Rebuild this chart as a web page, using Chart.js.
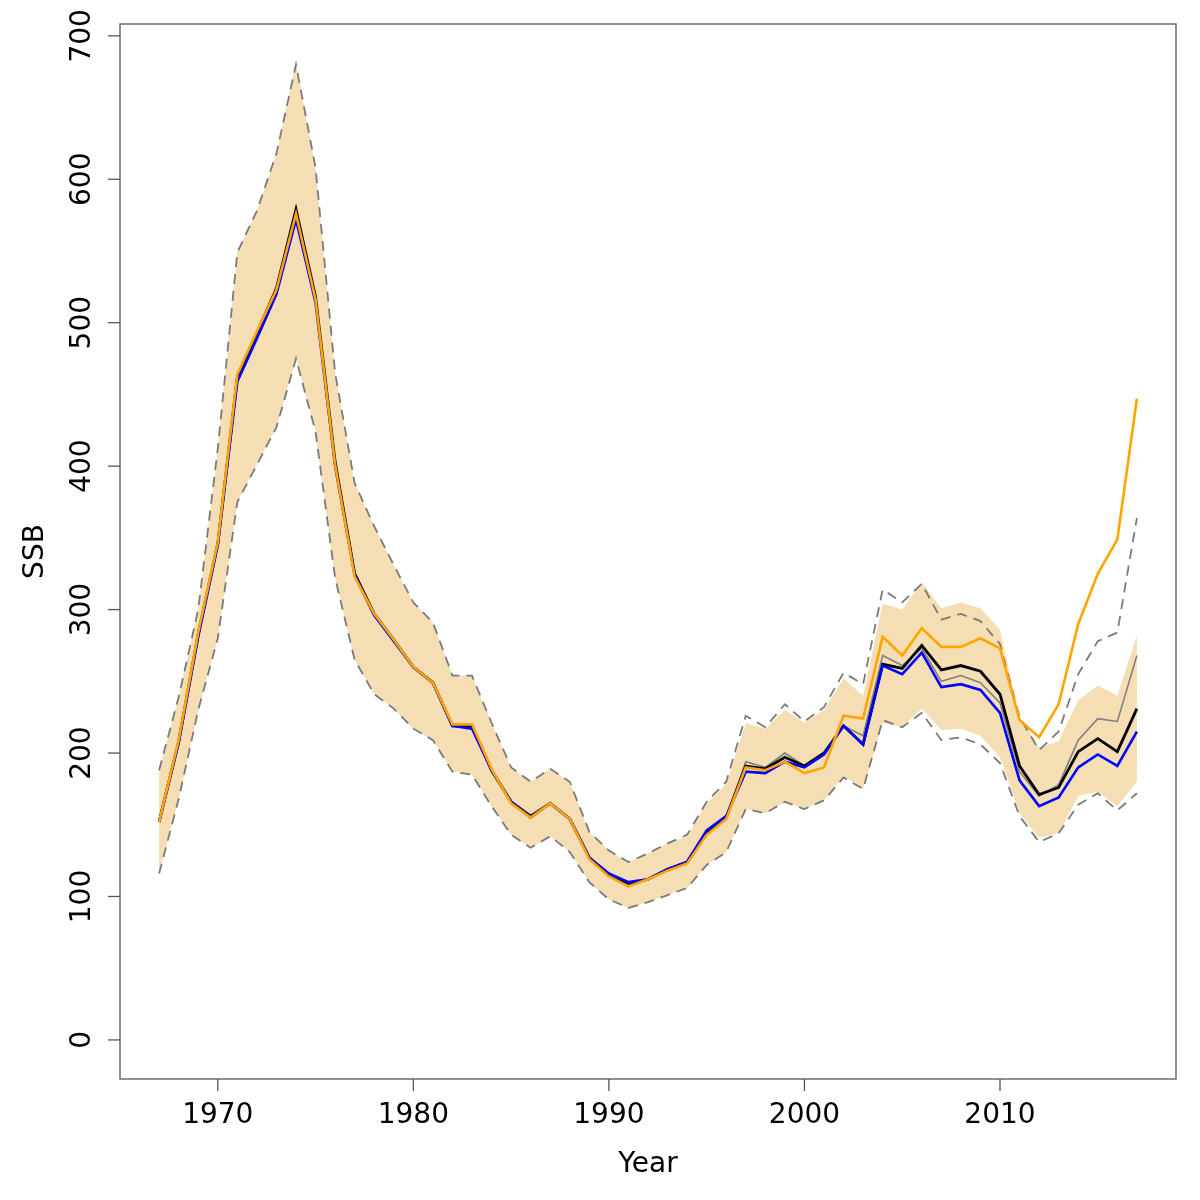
<!DOCTYPE html>
<html>
<head>
<meta charset="utf-8">
<script src="https://cdn.jsdelivr.net/npm/chart.js@4"></script>
<style>
  html, body { margin: 0; padding: 0; background: #fff; }
  #wrap { width: 1200px; height: 1200px; }
</style>
</head>
<body>
<div id="wrap"><canvas id="ssb-chart" width="1200" height="1200"></canvas></div>
<script>
const years = [1967, 1968, 1969, 1970, 1971, 1972, 1973, 1974, 1975, 1976,
    1977, 1978, 1979, 1980, 1981, 1982, 1983, 1984, 1985, 1986,
    1987, 1988, 1989, 1990, 1991, 1992, 1993, 1994, 1995, 1996,
    1997, 1998, 1999, 2000, 2001, 2002, 2003, 2004, 2005, 2006,
    2007, 2008, 2009, 2010, 2011, 2012, 2013, 2014, 2015, 2016, 2017];

const ssbBlack = [152, 208, 283, 346, 462, 493, 524, 579, 518, 403,
    325, 297, 279, 260, 249, 219, 219, 188, 166, 156,
    165, 154, 127, 115, 109, 112, 119, 124, 145, 155,
    191, 189, 197, 191, 200, 219, 206, 262, 259, 275,
    258, 261, 257, 241, 191, 171, 176, 201, 210, 201, 231];

const ssbGrey = [152, 208, 283, 346, 462, 493, 524, 579, 518, 403,
    325, 297, 279, 260, 249, 219, 219, 188, 166, 156,
    165, 154, 127, 115, 109, 112, 119, 124, 145, 155,
    194, 190, 200, 191, 200, 219, 212, 268, 261, 273,
    250, 254, 249, 235, 187, 170, 178, 209, 224, 222, 268];

const ssbBlue = [152, 207, 281, 345, 459, 489, 520, 572, 514, 400,
    324, 296, 278, 260, 249, 219, 217, 188, 166, 155,
    165, 154, 127, 116, 110, 112, 119, 124, 146, 156,
    187, 186, 194, 190, 199, 219, 206, 261, 255, 270,
    246, 248, 244, 228, 181, 163, 169, 190, 199, 191, 215];

const ssbOrange = [152, 209, 284, 347, 464, 494, 523, 576, 516, 401,
    323, 297, 279, 260, 249, 220, 220, 189, 165, 155,
    165, 154, 126, 114, 107, 112, 118, 123, 143, 154,
    190, 188, 194, 186, 190, 226, 224, 281, 268, 287,
    274, 274, 280, 273, 223, 211, 234, 290, 325, 349, 447];

const dashUpper = [188, 239, 300, 412, 549, 578, 618, 680, 608, 465,
    388, 358, 331, 305, 291, 254, 254, 221, 190, 180,
    189, 180, 145, 132, 124, 130, 137, 143, 166, 180,
    226, 218, 234, 222, 232, 256, 248, 314, 305, 318,
    293, 297, 292, 276, 225, 202, 215, 255, 278, 284, 364];

const dashLower = [116, 168, 230, 280, 375, 401, 427, 475, 424, 322,
    265, 241, 231, 217, 209, 187, 185, 163, 143, 134,
    142, 131, 110, 98, 92, 96, 101, 106, 122, 131,
    161, 158, 166, 161, 167, 183, 175, 223, 218, 228,
    209, 211, 206, 193, 156, 138, 144, 164, 172, 160, 172];

const bandUpper = [188, 239, 300, 412, 549, 578, 618, 681, 608, 465,
    388, 358, 331, 305, 291, 254, 254, 221, 190, 180,
    189, 180, 145, 132, 124, 130, 137, 142, 165, 178,
    221, 217, 230, 221, 230, 252, 240, 304, 300, 319,
    301, 305, 301, 286, 225, 204, 208, 237, 247, 240, 282];

const bandLower = [116, 168, 230, 280, 375, 401, 427, 475, 424, 322,
    265, 241, 231, 217, 209, 187, 185, 163, 143, 134,
    142, 131, 110, 98, 92, 96, 101, 106, 122, 131,
    161, 158, 166, 161, 167, 184, 175, 221, 218, 231,
    216, 217, 212, 197, 158, 141, 144, 170, 173, 163, 180];

const xTicks = [1970, 1980, 1990, 2000, 2010];
const yTicks = [0, 100, 200, 300, 400, 500, 600, 700];

const FONT = "28px 'DejaVu Sans'";

// base-graphics style frame, ticks and labels, placed with the chart's own scales
const rAxes = {
    id: "rAxes",
    afterDraw(chart) {
        const ctx = chart.ctx;
        const area = chart.chartArea;
        const xs = chart.scales.x;
        const ys = chart.scales.y;
        ctx.save();
        ctx.strokeStyle = "#555";
        ctx.lineWidth = 1.3;
        ctx.strokeRect(area.left, area.top, area.right - area.left, area.bottom - area.top);

        ctx.fillStyle = "#000";
        ctx.font = FONT;
        ctx.textAlign = "center";
        ctx.textBaseline = "alphabetic";
        xTicks.forEach((t) => {
            const px = xs.getPixelForValue(t);
            ctx.beginPath();
            ctx.moveTo(px, area.bottom);
            ctx.lineTo(px, area.bottom + 12);
            ctx.stroke();
            ctx.fillText(String(t), px, 1123);
        });
        yTicks.forEach((t) => {
            const py = ys.getPixelForValue(t);
            ctx.beginPath();
            ctx.moveTo(area.left, py);
            ctx.lineTo(area.left - 12, py);
            ctx.stroke();
            ctx.save();
            ctx.translate(90, py);
            ctx.rotate(-Math.PI / 2);
            ctx.fillText(String(t), 0, 0);
            ctx.restore();
        });

        ctx.fillText("Year", (area.left + area.right) / 2, 1172);
        ctx.save();
        ctx.translate(43, (area.top + area.bottom) / 2);
        ctx.rotate(-Math.PI / 2);
        ctx.fillText("SSB", 0, 0);
        ctx.restore();
        ctx.restore();
    },
};

const lineSet = (label, data, color, width, order, extra) =>
    Object.assign({
        label: label,
        data: data,
        borderColor: color,
        backgroundColor: color,
        borderWidth: width,
        pointRadius: 0,
        tension: 0,
        fill: false,
        order: order,
    }, extra || {});

const chartSSB = new Chart(document.getElementById("ssb-chart"), {
    type: "line",
    data: {
        labels: years,
        datasets: [
            lineSet("Orange", ssbOrange, "#FFA500", 2.6, 0),
            lineSet("Blue", ssbBlue, "#0000FF", 2.6, 1),
            lineSet("Black", ssbBlack, "#000000", 2.8, 2),
            lineSet("Grey", ssbGrey, "#808080", 1.6, 3),
            lineSet("Upper (dashed)", dashUpper, "#7a7a7a", 1.8, 4, { borderDash: [10, 7] }),
            lineSet("Lower (dashed)", dashLower, "#7a7a7a", 1.8, 4, { borderDash: [10, 7] }),
            lineSet("Band upper", bandUpper, "rgba(0,0,0,0)", 0, 5, { fill: "+1", backgroundColor: "#F5DEB3" }),
            lineSet("Band lower", bandLower, "rgba(0,0,0,0)", 0, 5),
        ],
    },
    options: {
        responsive: false,
        animation: false,
        devicePixelRatio: 1,
        layout: {
            padding: { left: 120, top: 24, right: 24, bottom: 121 },
        },
        plugins: {
            legend: { display: false },
            tooltip: { enabled: false },
        },
        scales: {
            x: {
                type: "linear",
                display: false,
                min: 1965,
                max: 2019,
            },
            y: {
                type: "linear",
                display: false,
                min: -27.24,
                max: 708.24,
            },
        },
    },
    plugins: [rAxes],
});
</script>
</body>
</html>
